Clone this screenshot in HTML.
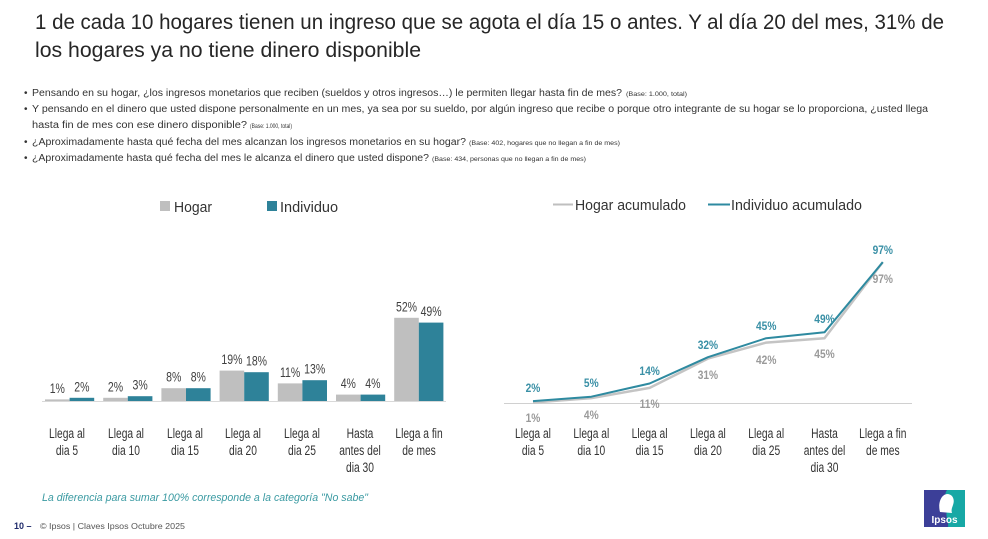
<!DOCTYPE html>
<html><head><meta charset="utf-8">
<style>
html,body{margin:0;padding:0;background:#fff;}
svg{display:block;}
text{font-family:"Liberation Sans",sans-serif;}
</style></head>
<body>
<svg width="988" height="539" viewBox="0 0 988 539" xmlns="http://www.w3.org/2000/svg">
<rect width="988" height="539" fill="#fff"/>

<!-- Title -->
<text x="35" y="29" font-size="21" fill="#262626" textLength="909" lengthAdjust="spacingAndGlyphs">1 de cada 10 hogares tienen un ingreso que se agota el día 15 o antes. Y al día 20 del mes, 31% de</text>
<text x="35" y="57" font-size="21" fill="#262626" textLength="386" lengthAdjust="spacingAndGlyphs">los hogares ya no tiene dinero disponible</text>

<!-- Bullets -->
<g fill="#333" font-size="10">
<text x="24" y="96">•</text>
<text x="32" y="96" textLength="590" lengthAdjust="spacingAndGlyphs">Pensando en su hogar, ¿los ingresos monetarios que reciben (sueldos y otros ingresos…) le permiten llegar hasta fin de mes?</text>
<text x="626" y="96" font-size="6" textLength="61" lengthAdjust="spacingAndGlyphs">(Base: 1.000, total)</text>
<text x="24" y="112">•</text>
<text x="32" y="112" textLength="896" lengthAdjust="spacingAndGlyphs">Y pensando en el dinero que usted dispone personalmente en un mes, ya sea por su sueldo, por algún ingreso que recibe o porque otro integrante de su hogar se lo proporciona, ¿usted llega</text>
<text x="32" y="128" textLength="215" lengthAdjust="spacingAndGlyphs">hasta fin de mes con ese dinero disponible?</text>
<text x="250" y="128" font-size="6" textLength="42" lengthAdjust="spacingAndGlyphs">(Base: 1.000, total)</text>
<text x="24" y="145">•</text>
<text x="32" y="145" textLength="434" lengthAdjust="spacingAndGlyphs">¿Aproximadamente hasta qué fecha del mes alcanzan los ingresos monetarios en su hogar?</text>
<text x="469" y="145" font-size="6" textLength="151" lengthAdjust="spacingAndGlyphs">(Base: 402, hogares que no llegan a fin de mes)</text>
<text x="24" y="161">•</text>
<text x="32" y="161" textLength="397" lengthAdjust="spacingAndGlyphs">¿Aproximadamente hasta qué fecha del mes le alcanza el dinero que usted dispone?</text>
<text x="432" y="161" font-size="6" textLength="154" lengthAdjust="spacingAndGlyphs">(Base: 434, personas que no llegan a fin de mes)</text>
</g>

<!-- Bar legend -->
<rect x="160" y="201" width="10" height="10" fill="#bfbfbf"/>
<text x="174" y="212" font-size="15" fill="#333" textLength="38" lengthAdjust="spacingAndGlyphs">Hogar</text>
<rect x="267" y="201" width="10" height="10" fill="#2e8299"/>
<text x="280" y="212" font-size="15" fill="#333" textLength="58" lengthAdjust="spacingAndGlyphs">Individuo</text>

<!-- Bars -->
<g fill="#bfbfbf">
<rect x="45" y="399.4" width="24.6" height="1.6"/>
<rect x="103.2" y="397.8" width="24.6" height="3.2"/>
<rect x="161.4" y="388.2" width="24.6" height="12.8"/>
<rect x="219.6" y="370.6" width="24.6" height="30.4"/>
<rect x="277.8" y="383.4" width="24.6" height="17.6"/>
<rect x="336" y="394.6" width="24.6" height="6.4"/>
<rect x="394.2" y="317.8" width="24.6" height="83.2"/>
</g>
<g fill="#2e8299">
<rect x="69.6" y="397.8" width="24.6" height="3.2"/>
<rect x="127.8" y="396.2" width="24.6" height="4.8"/>
<rect x="186" y="388.2" width="24.6" height="12.8"/>
<rect x="244.2" y="372.2" width="24.6" height="28.8"/>
<rect x="302.4" y="380.2" width="24.6" height="20.8"/>
<rect x="360.6" y="394.6" width="24.6" height="6.4"/>
<rect x="418.8" y="322.6" width="24.6" height="78.4"/>
</g>
<line x1="42" y1="401.5" x2="446" y2="401.5" stroke="#d9d9d9" stroke-width="1"/>

<!-- Bar value labels -->
<g font-size="13.5" fill="#404040" text-anchor="middle">
<text transform="translate(57.3,392.9) scale(0.78,1)">1%</text>
<text transform="translate(81.9,391.3) scale(0.78,1)">2%</text>
<text transform="translate(115.5,391.3) scale(0.78,1)">2%</text>
<text transform="translate(140.1,389.7) scale(0.78,1)">3%</text>
<text transform="translate(173.7,381.7) scale(0.78,1)">8%</text>
<text transform="translate(198.3,381.7) scale(0.78,1)">8%</text>
<text transform="translate(231.9,364.1) scale(0.78,1)">19%</text>
<text transform="translate(256.5,365.7) scale(0.78,1)">18%</text>
<text transform="translate(290.1,376.9) scale(0.78,1)">11%</text>
<text transform="translate(314.7,373.7) scale(0.78,1)">13%</text>
<text transform="translate(348.3,388.1) scale(0.78,1)">4%</text>
<text transform="translate(372.9,388.1) scale(0.78,1)">4%</text>
<text transform="translate(406.5,311.3) scale(0.78,1)">52%</text>
<text transform="translate(431.1,315.8) scale(0.78,1)">49%</text>
</g>

<!-- Bar x labels -->
<g font-size="13.5" fill="#333" text-anchor="middle">
<text transform="translate(67,438) scale(0.76,1)">Llega al</text>
<text transform="translate(67,455) scale(0.76,1)">dia 5</text>
<text transform="translate(126,438) scale(0.76,1)">Llega al</text>
<text transform="translate(126,455) scale(0.76,1)">dia 10</text>
<text transform="translate(185,438) scale(0.76,1)">Llega al</text>
<text transform="translate(185,455) scale(0.76,1)">dia 15</text>
<text transform="translate(243,438) scale(0.76,1)">Llega al</text>
<text transform="translate(243,455) scale(0.76,1)">dia 20</text>
<text transform="translate(302,438) scale(0.76,1)">Llega al</text>
<text transform="translate(302,455) scale(0.76,1)">dia 25</text>
<text transform="translate(360,438) scale(0.76,1)">Hasta</text>
<text transform="translate(360,455) scale(0.76,1)">antes del</text>
<text transform="translate(360,472) scale(0.76,1)">dia 30</text>
<text transform="translate(419,438) scale(0.76,1)">Llega a fin</text>
<text transform="translate(419,455) scale(0.76,1)">de mes</text>
</g>

<!-- Note -->
<text x="42" y="501" font-size="11" font-style="italic" fill="#3a9aa2" textLength="326" lengthAdjust="spacingAndGlyphs">La diferencia para sumar 100% corresponde a la categoría "No sabe"</text>

<!-- Line legend -->
<line x1="553" y1="204.5" x2="573" y2="204.5" stroke="#bfbfbf" stroke-width="2"/>
<text x="575" y="210" font-size="15" fill="#333" textLength="111" lengthAdjust="spacingAndGlyphs">Hogar acumulado</text>
<line x1="708" y1="204.5" x2="730" y2="204.5" stroke="#2e8aa0" stroke-width="2"/>
<text x="731" y="210" font-size="15" fill="#333" textLength="131" lengthAdjust="spacingAndGlyphs">Individuo acumulado</text>

<!-- Line chart axis -->
<line x1="504" y1="403.5" x2="912" y2="403.5" stroke="#d0d0d0" stroke-width="1"/>

<!-- Lines -->
<polyline fill="none" stroke="#c4c4c4" stroke-width="2.5" stroke-linejoin="round"
 points="533,402.5 591.3,398.1 649.6,387.9 707.9,358.6 766.2,342.6 824.5,338.2 882.8,262.1"/>
<polyline fill="none" stroke="#2e8aa0" stroke-width="2" stroke-linejoin="round"
 points="533,401.1 591.3,396.7 649.6,383.5 707.9,357.2 766.2,338.2 824.5,332.3 882.8,262.1"/>

<!-- Line labels -->
<g font-size="12" font-weight="bold" fill="#3a90a6" text-anchor="middle">
<text transform="translate(533,392) scale(0.85,1)">2%</text>
<text transform="translate(591.3,387) scale(0.85,1)">5%</text>
<text transform="translate(649.6,375) scale(0.85,1)">14%</text>
<text transform="translate(707.9,349) scale(0.85,1)">32%</text>
<text transform="translate(766.2,330) scale(0.85,1)">45%</text>
<text transform="translate(824.5,323) scale(0.85,1)">49%</text>
<text transform="translate(882.8,254) scale(0.85,1)">97%</text>
</g>
<g font-size="12" font-weight="bold" fill="#9a9a9a" text-anchor="middle">
<text transform="translate(533,422) scale(0.85,1)">1%</text>
<text transform="translate(591.3,419) scale(0.85,1)">4%</text>
<text transform="translate(649.6,408) scale(0.85,1)">11%</text>
<text transform="translate(707.9,379) scale(0.85,1)">31%</text>
<text transform="translate(766.2,364) scale(0.85,1)">42%</text>
<text transform="translate(824.5,358) scale(0.85,1)">45%</text>
<text transform="translate(882.8,283) scale(0.85,1)">97%</text>
</g>

<!-- Line x labels -->
<g font-size="13.5" fill="#333" text-anchor="middle">
<text transform="translate(533,438) scale(0.76,1)">Llega al</text>
<text transform="translate(533,455) scale(0.76,1)">dia 5</text>
<text transform="translate(591.3,438) scale(0.76,1)">Llega al</text>
<text transform="translate(591.3,455) scale(0.76,1)">dia 10</text>
<text transform="translate(649.6,438) scale(0.76,1)">Llega al</text>
<text transform="translate(649.6,455) scale(0.76,1)">dia 15</text>
<text transform="translate(707.9,438) scale(0.76,1)">Llega al</text>
<text transform="translate(707.9,455) scale(0.76,1)">dia 20</text>
<text transform="translate(766.2,438) scale(0.76,1)">Llega al</text>
<text transform="translate(766.2,455) scale(0.76,1)">dia 25</text>
<text transform="translate(824.5,438) scale(0.76,1)">Hasta</text>
<text transform="translate(824.5,455) scale(0.76,1)">antes del</text>
<text transform="translate(824.5,472) scale(0.76,1)">dia 30</text>
<text transform="translate(882.8,438) scale(0.76,1)">Llega a fin</text>
<text transform="translate(882.8,455) scale(0.76,1)">de mes</text>
</g>

<!-- Footer -->
<text x="14" y="529" font-size="9" font-weight="bold" fill="#1f2a6b">10 –</text>
<text x="40" y="529" font-size="8.5" fill="#555" textLength="145" lengthAdjust="spacingAndGlyphs">© Ipsos | Claves Ipsos Octubre  2025</text>

<!-- Ipsos logo -->
<rect x="924" y="490" width="41" height="37" fill="#3c3f98"/>
<path d="M947,490 C942,497 951,503 947,511 C945,516 949,522 948,527 L965,527 L965,490 Z" fill="#17a8a5"/>
<path d="M940,512 C938,505 940,495 947,494 C953,494 955,500 953,505 C952,508 951,510 952,513 Z" fill="#fff"/>
<text x="944.5" y="523" font-size="10" font-weight="bold" fill="#fff" text-anchor="middle">Ipsos</text>
</svg>
</body></html>
